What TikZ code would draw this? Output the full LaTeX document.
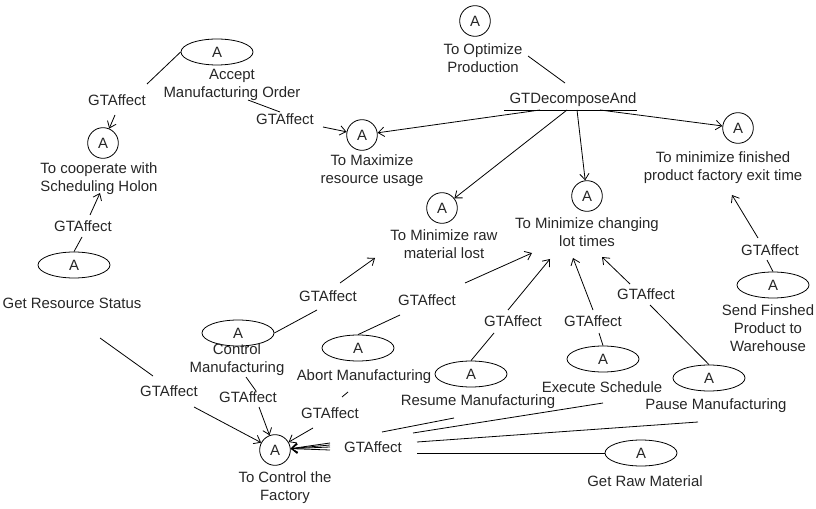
\documentclass[tikz,border=0pt]{standalone}
\usepackage{fontspec}
\setmainfont{Liberation Sans}
\usetikzlibrary{shapes.geometric,arrows.meta}

\begin{document}
\begin{tikzpicture}[x=0.75pt,y=-0.75pt,line width=0.6pt,
    font=\fontsize{11.2}{13.5}\selectfont,
    every node/.style={text=black!85},
    goal/.style={draw=black,circle,minimum size=23pt,inner sep=0pt},
    task/.style={draw=black,ellipse,minimum width=54pt,minimum height=19.5pt,inner sep=0pt},
    lbl/.style={align=center,inner sep=0pt},
    rel/.style={inner sep=0pt},
    >={Straight Barb[length=4.5pt,width=7pt]}]
  %\draw[help lines,step=50] (0,0) grid (816,509);
  \useasboundingbox (0,0) rectangle (816,509);

  % goals
  \node[goal] (opt) at (475,21) {A};
  \node[lbl] (lopt) at (483,58) {To Optimize\\Production};
  \node[goal] (maxres) at (362,135) {A};
  \node[lbl] (lmaxres) at (372,171) {To Maximize\\resource usage};
  \node[goal] (minraw) at (442,208) {A};
  \node[lbl] (lminraw) at (444,244) {To Minimize raw\\material lost};
  \node[goal] (minlot) at (587,196) {A};
  \node[lbl] (lminlot) at (587,232) {To Minimize changing\\lot times};
  \node[goal] (minexit) at (738,128) {A};
  \node[lbl] (lminexit) at (723,168) {To minimize finished\\product factory exit time};
  \node[goal] (coop) at (103,143) {A};
  \node[lbl] (lcoop) at (99,179) {To cooperate with\\Scheduling Holon};
  \node[goal] (ctrl) at (275,450) {A};
  \node[lbl] (lctrl) at (285,488) {To Control the\\Factory};

  % tasks
  \node[task] (accept) at (217,52) {A};
  \node[lbl] (laccept) at (232,85) {Accept\\Manufacturing Order};
  \node[task] (getres) at (74,265) {A};
  \node[lbl] (lgetres) at (72,303) {Get Resource Status};
  \node[task] (ctrlman) at (238,333) {A};
  \node[lbl] (lctrlman) at (237,360) {Control\\Manufacturing};
  \node[task] (abort) at (358,348) {A};
  \node[lbl] (labort) at (364,377) {Abort Manufacturing};
  \node[task] (resume) at (471,374) {A};
  \node[lbl] (lresume) at (478,402) {Resume Manufacturing};
  \node[task] (exec) at (603,359) {A};
  \node[lbl] (lexec) at (602,387) {Execute Schedule};
  \node[task] (pause) at (709,378) {A};
  \node[lbl] (lpause) at (716,406) {Pause Manufacturing};
  \node[task] (getraw) at (641,453) {A};
  \node[lbl] (lgetraw) at (645,481) {Get Raw Material};
  \node[task] (send) at (773,285) {A};
  \node[lbl] (lsend) at (768,328) {Send Finshed\\Product to\\Warehouse};

  % relation labels
  \node[rel] (dec) at (573,100) {GTDecomposeAnd};
  \node[rel] (g1) at (117,100) {GTAffect};
  \node[rel] (g2) at (285,119) {GTAffect};
  \node[rel] (g3) at (83,226) {GTAffect};
  \node[rel] (g4) at (169,391) {GTAffect};
  \node[rel] (g5) at (328,296) {GTAffect};
  \node[rel] (g6) at (248,397) {GTAffect};
  \node[rel] (g7) at (427,300) {GTAffect};
  \node[rel] (g8) at (330,413) {GTAffect};
  \node[rel] (g9) at (513,321) {GTAffect};
  \node[rel] (g10) at (593,321) {GTAffect};
  \node[rel] (g11) at (646,294) {GTAffect};
  \node[rel] (g12) at (770,250) {GTAffect};
  \node[rel] (g0) at (373,447) {GTAffect};

  % line ends
  \path (528,56) coordinate (o0) (565,83) coordinate (o1)
        (504,110) coordinate (u1) (637,110) coordinate (u2)
        (540,110) coordinate (d1) (567,110) coordinate (d2)
        (577,110) coordinate (d3) (600,110) coordinate (d4);
  \path (147,84) coordinate (a1) (115,115) coordinate (a2)
        (248,100) coordinate (a3) (280,112) coordinate (a4) (323,127) coordinate (a5);
  \path (82,237) coordinate (r1) (90,215) coordinate (r2) (100,193) coordinate (r3)
        (100,338) coordinate (r4) (153,376) coordinate (r5) (194,407) coordinate (r6);
  \path (317,310) coordinate (m1) (340,283) coordinate (m2) (375,258) coordinate (m3)
        (246,377) coordinate (m4) (256,391) coordinate (m5) (259,407) coordinate (m6);
  \path (400,315) coordinate (b1) (465,283) coordinate (b2) (532,253) coordinate (b3)
        (348,392) coordinate (b4) (342,397) coordinate (b5) (313,428) coordinate (b6);
  \path (494,333) coordinate (s1) (508,310) coordinate (s2) (550,259) coordinate (s3)
        (454,418) coordinate (s4) (382,432) coordinate (s5);
  \path (599,333) coordinate (e1) (593,310) coordinate (e2) (573,258) coordinate (e3)
        (603,403) coordinate (e4) (413,433) coordinate (e5);
  \path (650,305) coordinate (p1) (630,284) coordinate (p2) (602,257) coordinate (p3)
        (698,422) coordinate (p4) (417,442) coordinate (p5);
  \path (417,453) coordinate (w1);
  \path (767,260) coordinate (t1) (758,238) coordinate (t2) (732,195) coordinate (t3);
  \foreach \i/\y in {1/443,2/445,3/447,4/450}
    \coordinate (f\i) at (330,\y);

  % decomposition
  \draw (o0) -- (o1);
  \draw (u1) -- (u2);
  \draw[->] (d1) -- (maxres);
  \draw[->] (d2) -- (minraw);
  \draw[->] (d3) -- (minlot);
  \draw[->] (d4) -- (minexit);

  % affects
  \draw (accept.west) -- (a1);
  \draw[->] (a2) -- (coop);
  \draw (a3) -- (a4);
  \draw[->] (a5) -- (maxres);
  \draw (getres.north) -- (r1);
  \draw[->] (r2) -- (r3);
  \draw (r4) -- (r5);
  \draw[->] (r6) -- (ctrl);
  \draw (ctrlman.east) -- (m1);
  \draw[->] (m2) -- (m3);
  \draw (m4) -- (m5);
  \draw[->] (m6) -- (ctrl);
  \draw (abort.north) -- (b1);
  \draw[->] (b2) -- (b3);
  \draw (b4) -- (b5);
  \draw[->] (b6) -- (ctrl);
  \draw (resume.north) -- (s1);
  \draw[->] (s2) -- (s3);
  \draw (s4) -- (s5);
  \draw (exec.north) -- (e1);
  \draw[->] (e2) -- (e3);
  \draw (e4) -- (e5);
  \draw (pause.north) -- (p1);
  \draw[->] (p2) -- (p3);
  \draw (p4) -- (p5);
  \draw (getraw.west) -- (w1);
  \foreach \i in {1,...,4}
    \draw[->] (f\i) -- (ctrl.5);
  \draw (send.north) -- (t1);
  \draw[->] (t2) -- (t3);
\end{tikzpicture}
\end{document}
